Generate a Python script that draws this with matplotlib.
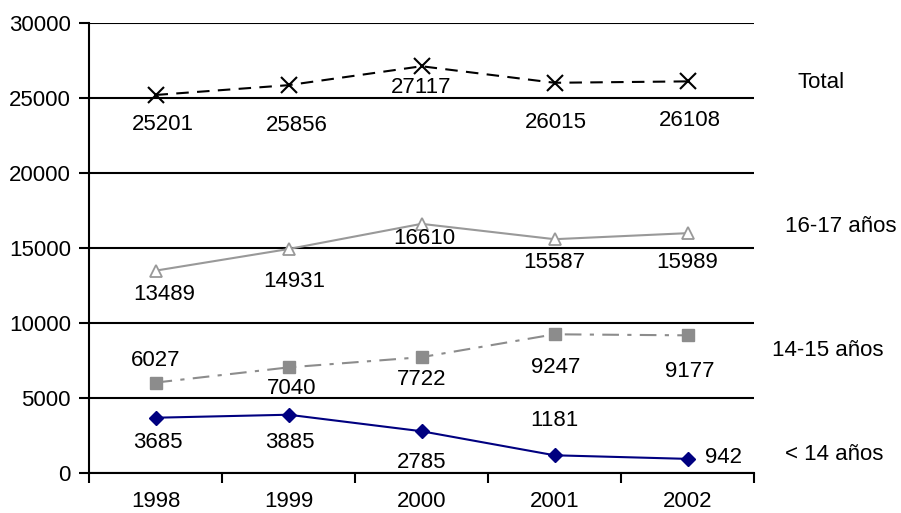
import matplotlib
matplotlib.use("Agg")
from matplotlib import pyplot as plt

plt.rcParams['font.family'] = ['Liberation Sans', 'DejaVu Sans']

years = ['1998', '1999', '2000', '2001', '2002']
total = [25201, 25856, 27117, 26015, 26108]
age_16_17 = [13489, 14931, 16610, 15587, 15989]
age_14_15 = [6027, 7040, 7722, 9247, 9177]
age_under_14 = [3685, 3885, 2785, 1181, 942]

# label offsets in pixels (dx, dy) from each point, dy negative = below
total_off = [(7, -30), (8, -40), (0, -21), (1, -40), (2, -39)]
off_16_17 = [(9, -24), (6, -32), (3, -15), (0, -23), (0, -29)]
off_14_15 = [(0, 22), (3, -21), (0, -22), (1, -33), (2, -36)]
off_under_14 = [(2, -25), (1, -28), (0, -31), (0, 35), (37, 1)]

fig = plt.figure(figsize=(9.01, 5.13), dpi=100)
ax = fig.add_axes([89 / 901, 1 - 473 / 513, 665 / 901, 450 / 513])

x = list(range(len(years)))
fs = 16

ax.plot(x, total, color='black', linestyle=(0, (6, 4)), linewidth=1.5,
        marker='x', markersize=11, markeredgewidth=1.5)
ax.plot(x, age_16_17, color='#999999', linewidth=1.5,
        marker='^', markersize=9, markerfacecolor='white', markeredgewidth=1.3)
ax.plot(x, age_14_15, color='#8c8c8c', linestyle=(0, (8, 4, 2, 4)), linewidth=1.5,
        marker='s', markersize=8, markerfacecolor='#8c8c8c')
ax.plot(x, age_under_14, color='#000080', linewidth=1.5,
        marker='D', markersize=7, markerfacecolor='#000080')

for series, offs in [(total, total_off), (age_16_17, off_16_17),
                     (age_14_15, off_14_15), (age_under_14, off_under_14)]:
    for i, v in enumerate(series):
        ha = 'left' if offs[i][0] > 20 else 'center'
        dx = offs[i][0] - 19 if ha == 'left' else offs[i][0]
        ax.annotate(str(v), (i, v), xytext=(dx, offs[i][1]),
                    textcoords='offset pixels', ha=ha, va='center', fontsize=fs)

ax.set_xlim(-0.5, 4.5)
ax.set_ylim(0, 30000)
ax.set_yticks(range(0, 30001, 5000))
ax.yaxis.grid(True, color='black', linewidth=1.5)
ax.set_axisbelow(True)

ax.set_xticks([i - 0.5 for i in range(len(years) + 1)])
ax.set_xticklabels([])
ax.set_xticks(x, minor=True)
ax.set_xticklabels(years, minor=True)
ax.tick_params(axis='x', which='major', length=7, width=1.5, direction='out')
ax.tick_params(axis='x', which='minor', length=0, pad=13, labelsize=fs)
ax.tick_params(axis='y', length=7, width=1.5, pad=6, labelsize=fs)

for s in ['top', 'right']:
    ax.spines[s].set_visible(False)
for s in ['left', 'bottom']:
    ax.spines[s].set_linewidth(1.5)

fig.text(797 / 901, 1 - 83 / 513, 'Total', fontsize=fs, va='center')
fig.text(785 / 901, 1 - 227 / 513, '16-17 años', fontsize=fs, va='center')
fig.text(772 / 901, 1 - 351 / 513, '14-15 años', fontsize=fs, va='center')
fig.text(785 / 901, 1 - 454 / 513, '< 14 años', fontsize=fs, va='center')

fig.savefig('out.png', dpi=100)
